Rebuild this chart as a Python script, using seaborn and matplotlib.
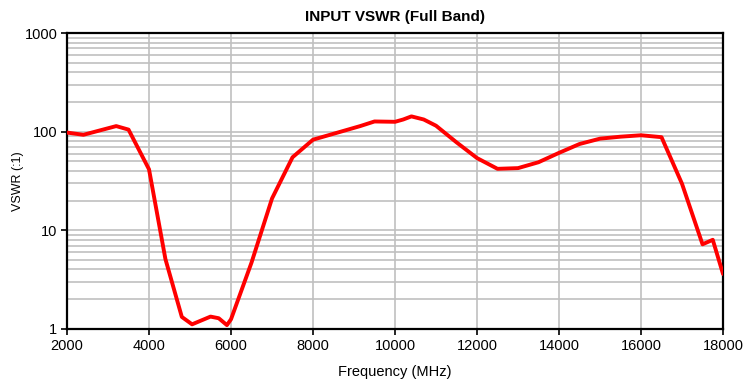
import seaborn as sns
import pandas as pd
import numpy as np
import matplotlib
matplotlib.use("Agg")
import matplotlib.pyplot as plt
from matplotlib.ticker import FixedLocator, NullFormatter

### DATA - INPUT VSWR full band
freq_mhz = [2000, 2400, 2800, 3200, 3500, 4000, 4400, 4800, 5050, 5500, 5700, 5900,
            6000, 6500, 7000, 7500, 8000, 9150, 9500, 10000, 10200, 10400, 10700,
            11000, 11500, 12000, 12500, 13000, 13500, 14000, 14500, 15000, 15500,
            16000, 16500, 17000, 17500, 17750, 18000]
vswr = [98, 93, 103, 114, 105, 41.5, 5.1, 1.32, 1.11, 1.33, 1.28, 1.09,
        1.25, 4.7, 21, 55, 83, 114, 127, 126, 133, 143, 133,
        115, 78, 54, 42, 42.7, 49, 61, 75, 85, 89,
        92, 88, 29.6, 7.2, 8.0, 3.6]

df = pd.DataFrame({'Frequency (MHz)': freq_mhz, 'VSWR (:1)': vswr})

sns.set_style("white")
plt.rcParams['font.family'] = ['Liberation Sans', 'DejaVu Sans']
plt.rcParams['text.color'] = 'black'
plt.rcParams['axes.labelcolor'] = 'black'

fig = plt.figure(figsize=(7.48, 3.81), dpi=100)
ax = fig.add_axes([0.0896, 0.137, 0.877, 0.776])
sns.lineplot(data=df, x='Frequency (MHz)', y='VSWR (:1)', color='#ff0000',
             linewidth=2.8, ax=ax, zorder=3, sort=False)

ax.set_yscale('log')
ax.set_xlim(2000, 18000)
ax.set_ylim(1, 1000)
ax.set_xticks(range(2000, 18001, 2000))
ax.yaxis.set_major_locator(FixedLocator([1, 10, 100, 1000]))
ax.set_yticklabels(['1', '10', '100', '1000'])
minors = [m * d for d in [1, 10, 100] for m in range(2, 10)]
ax.yaxis.set_minor_locator(FixedLocator(minors))
ax.yaxis.set_minor_formatter(NullFormatter())

ax.grid(True, which='major', axis='both', color='#c0c0c0', linewidth=1.2)
ax.grid(True, which='minor', axis='y', color='#c0c0c0', linewidth=1.2)
ax.set_axisbelow(True)

for s in ax.spines.values():
    s.set_color('black')
    s.set_linewidth(1.6)
    s.set_visible(True)

ax.tick_params(axis='both', which='major', direction='out', length=4, width=1.2,
               colors='black', labelsize=10.5, bottom=True, left=True, pad=3)
ax.tick_params(axis='y', which='minor', length=0)

ax.set_title('INPUT VSWR (Full Band)', fontsize=11, fontweight='bold', pad=9, color='black')
ax.set_xlabel('Frequency (MHz)', fontsize=10.5, labelpad=9, color='black')
ax.set_ylabel('VSWR (:1)', fontsize=9, color='black')
ax.yaxis.set_label_coords(-0.066, 0.5)

fig.savefig('out.png', dpi=100)
plt.close('all')
